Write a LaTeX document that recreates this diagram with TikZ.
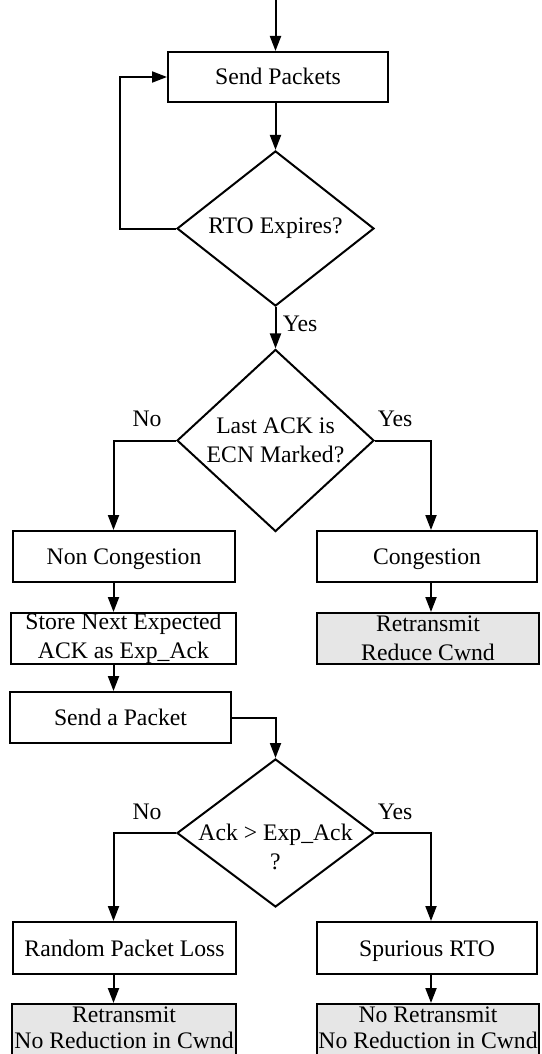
\documentclass[tikz,border=0pt]{standalone}
\usepackage{fontspec}
\setmainfont{Liberation Serif}
\usetikzlibrary{shapes.geometric,arrows.meta}
\definecolor{actfill}{HTML}{E6E6E6}
\begin{document}
\begin{tikzpicture}[x=1pt,y=-1pt,
  line width=2pt,
  txt/.style={font=\fontsize{23.7}{28.5}\selectfont},
  tight/.style={font=\fontsize{23.7}{26}\selectfont},
  box/.style={draw, rectangle, inner sep=0pt, align=center, txt},
  proc/.style={box, text height=16pt, text depth=0pt},
  action/.style={box, fill=actfill},
  decision/.style={draw, shape=diamond, minimum width=197pt, minimum height=147pt,
                   inner sep=0pt, align=center, txt},
  lbl/.style={inner sep=0pt, txt},
  arr/.style={-{Triangle[length=15pt,width=11pt]}}]
\useasboundingbox (0,0) rectangle (541,1054);
\clip (0,0) rectangle (541,1054);

% branch columns
\coordinate (lx) at (113.5,0);
\coordinate (rx) at (431,0);
\coordinate (start) at (275.5,0);

% main chain
\node[proc, minimum width=220pt, minimum height=50pt] (send) at (278,77) {Send Packets};
\node[decision] (d1) at (275.5,228.5) {RTO Expires?};
\node[decision] (d2) at (275.5,440.5) {Last ACK is\\ECN Marked?};

% first split
\node[proc, minimum width=222pt, minimum height=51pt] (nc) at (124,556.5) {Non Congestion};
\node[proc, minimum width=220pt, minimum height=51pt] (cong) at (427,556.5) {Congestion};
\node[box, minimum width=225pt, minimum height=51pt] (store) at (123.5,638.5) {Store Next Expected\\ACK as Exp\_Ack};
\node[action, minimum width=222pt, minimum height=51pt] (retx) at (428,638.5) {Retransmit\\Reduce Cwnd};
\node[proc, minimum width=221pt, minimum height=51pt] (sendp) at (120.5,717.5) {Send a Packet};

% second decision
\node[draw, shape=diamond, minimum width=197pt, minimum height=148pt, inner sep=0pt] (d3) at (275.5,833) {};
\node[lbl, align=center] (d3text) at (275.5,847) {Ack > Exp\_Ack\\?};

\node[proc, minimum width=223pt, minimum height=52pt] (rand) at (124.5,948) {Random Packet Loss};
\node[proc, minimum width=220pt, minimum height=52pt] (spur) at (427,948) {Spurious RTO};

% bottom outcomes (boxes run past the lower edge)
\node[action, minimum width=224pt, minimum height=53pt] (bl) at (124,1030.5) {};
\node[action, minimum width=222pt, minimum height=53pt] (br) at (428,1030.5) {};
\node[lbl, tight, align=center] (bltext) at (124,1028) {Retransmit\\No Reduction in Cwnd};
\node[lbl, tight, align=center] (brtext) at (428,1028) {No Retransmit\\No Reduction in Cwnd};

% branch labels
\node[lbl] (yes1) at (300,324) {Yes};
\node[lbl] (no2) at (147,419) {No};
\node[lbl] (yes2) at (395,419) {Yes};
\node[lbl] (no3) at (147,812) {No};
\node[lbl] (yes3) at (395,812) {Yes};

% connectors
\draw[arr] (start) -- (start |- send.north);
\draw[arr] (d1.north |- send.south) -- (d1.north);
\draw[arr] (d1.west) -- ++(-56.5,0) |- (send.west);
\draw[arr] (d1.south) -- (d2.north);
\draw[arr] (d2.west) -| (lx |- nc.north);
\draw[arr] (d2.east) -| (rx |- cong.north);
\draw[arr] (lx |- nc.south) -- (lx |- store.north);
\draw[arr] (rx |- cong.south) -- (rx |- retx.north);
\draw[arr] (lx |- store.south) -- (lx |- sendp.north);
\draw[arr] (sendp.east) -| (d3.north);
\draw[arr] (d3.west) -| (lx |- rand.north);
\draw[arr] (d3.east) -| (rx |- spur.north);
\draw[arr] (lx |- rand.south) -- (lx |- bl.north);
\draw[arr] (rx |- spur.south) -- (rx |- br.north);
\end{tikzpicture}
\end{document}
